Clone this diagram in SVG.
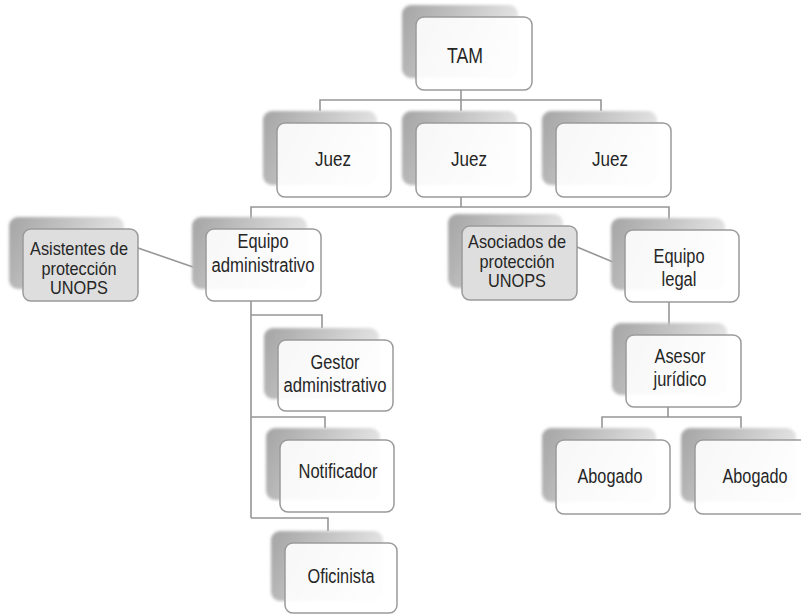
<svg xmlns="http://www.w3.org/2000/svg" width="801" height="616" viewBox="0 0 801 616">
<defs>
<linearGradient id="sg" x1="0" y1="0" x2="1" y2="0.3">
<stop offset="0" stop-color="#a4a4a4"/>
<stop offset="0.5" stop-color="#c4c4c4"/>
<stop offset="1" stop-color="#e6e6e6"/>
</linearGradient>
<filter id="blur" x="-10%" y="-10%" width="120%" height="120%">
<feGaussianBlur stdDeviation="1.6"/>
</filter>
<style>
.sh{fill:url(#sg);filter:url(#blur)}
.fr{fill:#ffffff;fill-opacity:0.9;stroke:#9a9a9a;stroke-width:1.5}
.gr{fill:#dedede;stroke:#9a9a9a;stroke-width:1.5}
.cn{fill:none;stroke:#969696;stroke-width:1.6}
text{font-family:"Liberation Sans",Arial,sans-serif;font-size:20px;fill:#262626;text-anchor:middle}
.s3{font-size:18.5px}
</style>
</defs>
<rect width="801" height="616" fill="#ffffff"/>
<g id="connectors">
<path class="cn" d="M461 90V100M320 111V100H601V111M461 100V111"/>
<path class="cn" d="M461 197V207M251 229V207H669V230"/>
<path class="cn" d="M138 248L193 267"/>
<path class="cn" d="M577 247L613 262"/>
<path class="cn" d="M251 301V518M251 315H322V328M251 417H325V428M251 518H328V531"/>
<path class="cn" d="M669 302V335"/>
<path class="cn" d="M668 407V417M602 428V417H741V428"/>
</g>
<g id="n-tam">
<rect class="sh" x="402" y="5" width="116" height="73" rx="9"/>
<rect class="fr" x="416" y="17" width="116" height="73" rx="8"/>
<text x="465" y="63" style="font-size:22px" textLength="36" lengthAdjust="spacingAndGlyphs">TAM</text>
</g>
<g id="n-juez1">
<rect class="sh" x="263" y="111" width="114" height="74" rx="9"/>
<rect class="fr" x="277" y="123" width="114" height="74" rx="8"/>
<text x="333" y="166" textLength="36" lengthAdjust="spacingAndGlyphs">Juez</text>
</g>
<g id="n-juez2">
<rect class="sh" x="402" y="111" width="115" height="74" rx="9"/>
<rect class="fr" x="416" y="123" width="115" height="74" rx="8"/>
<text x="469" y="166" textLength="36" lengthAdjust="spacingAndGlyphs">Juez</text>
</g>
<g id="n-juez3">
<rect class="sh" x="542" y="111" width="115" height="74" rx="9"/>
<rect class="fr" x="556" y="123" width="115" height="74" rx="8"/>
<text x="610" y="166" textLength="36" lengthAdjust="spacingAndGlyphs">Juez</text>
</g>
<g id="n-asistentes">
<rect class="sh" x="9" y="217" width="115" height="72" rx="9"/>
<rect class="gr" x="23" y="229" width="115" height="72" rx="8"/>
<text class="s3" x="79" y="255" textLength="98" lengthAdjust="spacingAndGlyphs">Asistentes de</text>
<text class="s3" x="79" y="274.5" textLength="75" lengthAdjust="spacingAndGlyphs">protección</text>
<text class="s3" x="79" y="294" textLength="58" lengthAdjust="spacingAndGlyphs">UNOPS</text>
</g>
<g id="n-equipo-admin">
<rect class="sh" x="192" y="217" width="115" height="72" rx="9"/>
<rect class="fr" x="206" y="229" width="115" height="72" rx="8"/>
<text x="263" y="248" textLength="51" lengthAdjust="spacingAndGlyphs">Equipo</text>
<text x="263" y="272" textLength="103" lengthAdjust="spacingAndGlyphs">administrativo</text>
</g>
<g id="n-asociados">
<rect class="sh" x="448" y="214" width="115" height="74" rx="9"/>
<rect class="gr" x="462" y="226" width="115" height="74" rx="8"/>
<text class="s3" x="517" y="248" textLength="98" lengthAdjust="spacingAndGlyphs">Asociados de</text>
<text class="s3" x="517" y="267.5" textLength="75" lengthAdjust="spacingAndGlyphs">protección</text>
<text class="s3" x="517" y="287" textLength="58" lengthAdjust="spacingAndGlyphs">UNOPS</text>
</g>
<g id="n-equipo-legal">
<rect class="sh" x="611" y="218" width="114" height="72" rx="9"/>
<rect class="fr" x="625" y="230" width="114" height="72" rx="8"/>
<text x="679" y="263" textLength="51" lengthAdjust="spacingAndGlyphs">Equipo</text>
<text x="679" y="286" textLength="35" lengthAdjust="spacingAndGlyphs">legal</text>
</g>
<g id="n-asesor">
<rect class="sh" x="612" y="323" width="115" height="72" rx="9"/>
<rect class="fr" x="626" y="335" width="115" height="72" rx="8"/>
<text x="680" y="363" textLength="51" lengthAdjust="spacingAndGlyphs">Asesor</text>
<text x="680" y="386" textLength="53" lengthAdjust="spacingAndGlyphs">jurídico</text>
</g>
<g id="n-gestor">
<rect class="sh" x="264" y="328" width="115" height="71" rx="9"/>
<rect class="fr" x="278" y="340" width="115" height="71" rx="8"/>
<text x="335" y="369" textLength="49" lengthAdjust="spacingAndGlyphs">Gestor</text>
<text x="335" y="392" textLength="103" lengthAdjust="spacingAndGlyphs">administrativo</text>
</g>
<g id="n-notificador">
<rect class="sh" x="266" y="428" width="114" height="72" rx="9"/>
<rect class="fr" x="280" y="440" width="114" height="72" rx="8"/>
<text x="338" y="478" textLength="79" lengthAdjust="spacingAndGlyphs">Notificador</text>
</g>
<g id="n-oficinista">
<rect class="sh" x="271" y="531" width="112" height="70" rx="9"/>
<rect class="fr" x="285" y="543" width="112" height="70" rx="8"/>
<text x="341" y="583" textLength="67" lengthAdjust="spacingAndGlyphs">Oficinista</text>
</g>
<g id="n-abogado1">
<rect class="sh" x="542" y="428" width="114" height="74" rx="9"/>
<rect class="fr" x="556" y="440" width="114" height="74" rx="8"/>
<text x="610" y="483" textLength="65" lengthAdjust="spacingAndGlyphs">Abogado</text>
</g>
<g id="n-abogado2">
<rect class="sh" x="681" y="428" width="115" height="74" rx="9"/>
<rect class="fr" x="695" y="440" width="115" height="74" rx="8"/>
<text x="755" y="483" textLength="65" lengthAdjust="spacingAndGlyphs">Abogado</text>
</g>
</svg>
